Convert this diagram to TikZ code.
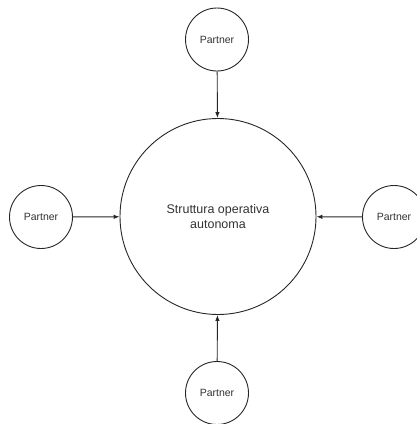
\documentclass[tikz,border=0pt]{standalone}
\usepackage{fontspec}
\setmainfont{Liberation Sans}
\usetikzlibrary{arrows.meta}
\begin{document}
\begin{tikzpicture}[x=1pt,y=-1pt,
  partner/.style={circle,draw=black!85,line width=0.9pt,minimum size=63pt,inner sep=0pt,font=\fontsize{10.5}{12}\selectfont,text=black!80},
  core/.style={circle,draw=black!85,line width=0.9pt,minimum size=196pt,inner sep=0pt,align=center,font=\fontsize{12.5}{15}\selectfont,text=black!80},
  flow/.style={draw=black!85,line width=0.9pt,-{Latex[length=6pt,width=4.5pt]}}]
\useasboundingbox (0,0) rectangle (417,424);
\node[core] (c) at (218,216.5) {Struttura operativa\\autonoma};
\node[partner] (t) at (217,39.5) {Partner};
\node[partner] (l) at (41,217) {Partner};
\node[partner] (r) at (394,217) {Partner};
\node[partner] (b) at (217,393) {Partner};
\draw[flow] (t) -- (c);
\draw[flow] (l) -- (c);
\draw[flow] (r) -- (c);
\draw[flow] (b) -- (c);
\end{tikzpicture}
\end{document}
